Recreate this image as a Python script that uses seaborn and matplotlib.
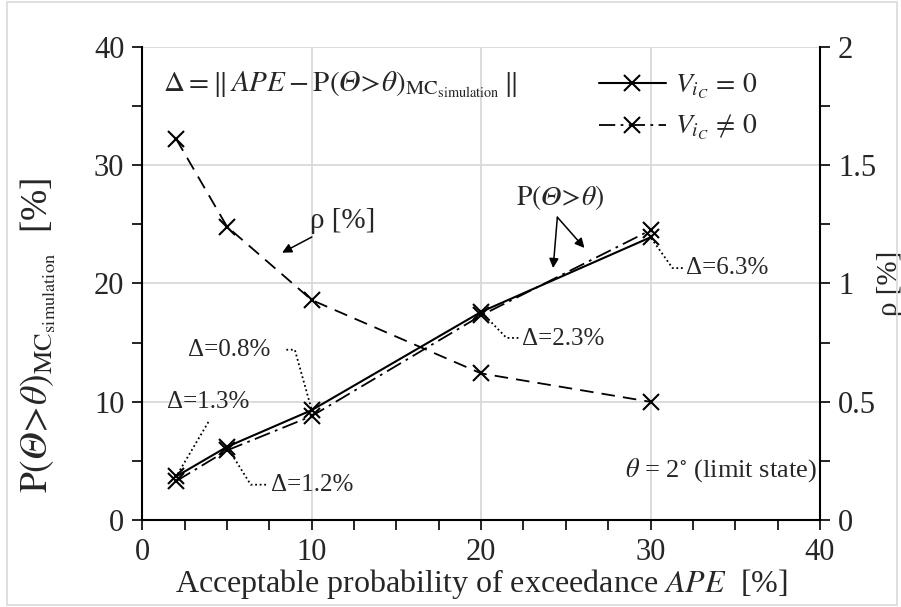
import matplotlib
matplotlib.use("Agg")
import matplotlib.pyplot as plt
import seaborn as sns
import numpy as np
import pandas as pd
from matplotlib.lines import Line2D
from matplotlib.patches import Rectangle
from matplotlib.ticker import MultipleLocator, FuncFormatter

# ---------------- data ----------------
ape = [2, 5, 10, 20, 30]
p_vic0 = [3.7, 6.2, 9.3, 17.6, 23.9]      # V_ic = 0  (solid)
p_vicn0 = [3.3, 5.9, 8.8, 17.3, 24.5]     # V_ic != 0 (dash-dot)
rho = [1.61, 1.24, 0.93, 0.62, 0.50]      # right axis
delta_labels = ["Δ=1.3%", "Δ=1.2%", "Δ=0.8%", "Δ=2.3%", "Δ=6.3%"]

sns.set_theme(style="white")
plt.rcParams["font.family"] = ["Liberation Serif", "DejaVu Serif"]
plt.rcParams["mathtext.fontset"] = "stix"

TH = "\U0001D6E9"  # mathematical italic capital theta

fig = plt.figure(figsize=(9.01, 6.07), dpi=100)
ax = fig.add_axes([0.158, 0.143, 0.752, 0.780])
ax2 = ax.twinx()

df = pd.DataFrame({"APE": ape, "p0": p_vic0, "p1": p_vicn0, "rho": rho})

MS = 11
sns.lineplot(data=df, x="APE", y="p0", ax=ax, color="black", lw=1.5,
             marker="x", markersize=MS, markeredgewidth=1.5, markeredgecolor="black")
sns.lineplot(data=df, x="APE", y="p1", ax=ax, color="black", lw=1.3,
             marker="x", markersize=MS, markeredgewidth=1.5, markeredgecolor="black")
ax.lines[1].set_linestyle((0, (9, 3, 1.5, 3)))
sns.lineplot(data=df, x="APE", y="rho", ax=ax2, color="black", lw=1.3,
             marker="x", markersize=MS, markeredgewidth=1.5, markeredgecolor="black")
ax2.lines[0].set_linestyle((0, (7.5, 4.5)))

# axes limits, ticks
ax.set_xlim(0, 40)
ax.set_ylim(0, 40)
ax2.set_ylim(0, 2)
ax.xaxis.set_major_locator(MultipleLocator(10))
ax.xaxis.set_minor_locator(MultipleLocator(2.5))
ax.yaxis.set_major_locator(MultipleLocator(10))
ax.yaxis.set_minor_locator(MultipleLocator(5))
ax2.yaxis.set_major_locator(MultipleLocator(0.5))
ax2.yaxis.set_minor_locator(MultipleLocator(0.25))
ax2.yaxis.set_major_formatter(FuncFormatter(lambda v, p: f"{v:g}"))

ax.grid(True, which="major", color="#d9d9d9", lw=1.3)
ax.set_axisbelow(True)

for a in (ax, ax2):
    a.tick_params(which="both", direction="out", length=7, width=1.2, color="black",
                  labelsize=22, pad=6)
    for s in a.spines.values():
        s.set_visible(False)
ax.spines["left"].set_visible(True)
ax.spines["bottom"].set_visible(True)
ax2.spines["right"].set_visible(True)
for s in ("left", "bottom"):
    ax.spines[s].set_color("black"); ax.spines[s].set_linewidth(1.5)
ax2.spines["right"].set_color("black"); ax2.spines["right"].set_linewidth(1.5)
ax.tick_params(axis="y", which="both", left=True)
ax.tick_params(axis="x", which="both", bottom=True)
ax2.tick_params(axis="y", which="both", right=True)

ax.set_xlabel(r"Acceptable probability of exceedance $APE$  [%]", fontsize=23, labelpad=0)
ax.set_ylabel(r"$\mathrm{P}(" + TH + r"\!>\!\mathit{\theta})_{\mathrm{MC}_{\mathrm{simulation}}}$  [%]",
              fontsize=27)
ax.yaxis.set_label_coords(-0.125, 0.39)
ax2.set_ylabel("ρ [%]", fontsize=21, labelpad=1)

# legend
handles = [Line2D([], [], color="black", lw=1.5, marker="x", markersize=MS, markeredgewidth=1.5),
           Line2D([], [], color="black", lw=1.3, marker="x", markersize=MS, markeredgewidth=1.5,
                  linestyle=(0, (9, 3, 1.5, 3)))]
ax.legend(handles, [r"$V_{i_C}\,=\,0$", r"$V_{i_C}\,\neq\,0$"], loc="upper left",
          bbox_to_anchor=(0.637, 1.0), frameon=False, fontsize=20, handlelength=2.4,
          handletextpad=0.35, labelspacing=0.45)

# formula
ax.text(1.2, 36.8, r"$\Delta = \|\,APE - \mathrm{P}(" + TH + r"\!>\!\mathit{\theta})_{\mathrm{MC}_{\mathrm{simulation}}}\,\|$",
        fontsize=21, va="center", ha="left")

# rho label with arrow
ax.annotate("ρ [%]", xy=(8.25, 22.6), xytext=(9.9, 25.3), fontsize=21, va="center", ha="left",
            arrowprops=dict(arrowstyle="-|>", color="black", lw=1.1, mutation_scale=14,
                            shrinkA=0, shrinkB=0))

# P(Theta>theta) label with two arrows
ptxt = r"$\mathrm{P}(" + TH + r"\!>\!\mathit{\theta})$"
ax.text(24.7, 27.3, ptxt, fontsize=20, ha="center", va="center")
for tip in [(24.25, 21.3), (26.1, 23.0)]:
    ax.annotate("", xy=tip, xytext=(24.5, 25.6),
                arrowprops=dict(arrowstyle="-|>", color="black", lw=1.1, mutation_scale=14,
                                shrinkA=0, shrinkB=0))

# delta annotations: (text x, text y, ha), connector start and bend points
dtxt_pos = [(3.9, 10.0, "center"), (7.6, 3.0, "left"), (5.1, 14.4, "center"),
            (22.4, 15.3, "left"), (32.1, 21.3, "left")]
conn_start = [(3.9, 8.3), (7.3, 3.0), (8.5, 14.4), (22.2, 15.4), (31.9, 21.3)]
conn_bend = [(3.9, 8.3), (6.4, 3.0), (9.0, 14.4), (21.5, 15.4), (31.3, 21.3)]
for i, lab in enumerate(delta_labels):
    tx, ty, ha = dtxt_pos[i]
    ax.text(tx, ty, lab, fontsize=18, ha=ha, va="center")
    xs = [conn_start[i][0], conn_bend[i][0], ape[i]]
    ys = [conn_start[i][1], conn_bend[i][1], p_vic0[i]]
    ax.plot(xs, ys, color="black", lw=1.3, linestyle=(0, (1, 1.5)))

ax.text(39.8, 4.2, r"$\mathit{\theta}$ = 2$^{\circ}$ (limit state)", fontsize=19, ha="right", va="center")

# outer chart frame
fig.patches.append(Rectangle((0.008, 0.003), 0.988, 0.994, transform=fig.transFigure,
                             fill=False, edgecolor="#d9d9d9", lw=1.2))

fig.savefig("out.png", dpi=100)
